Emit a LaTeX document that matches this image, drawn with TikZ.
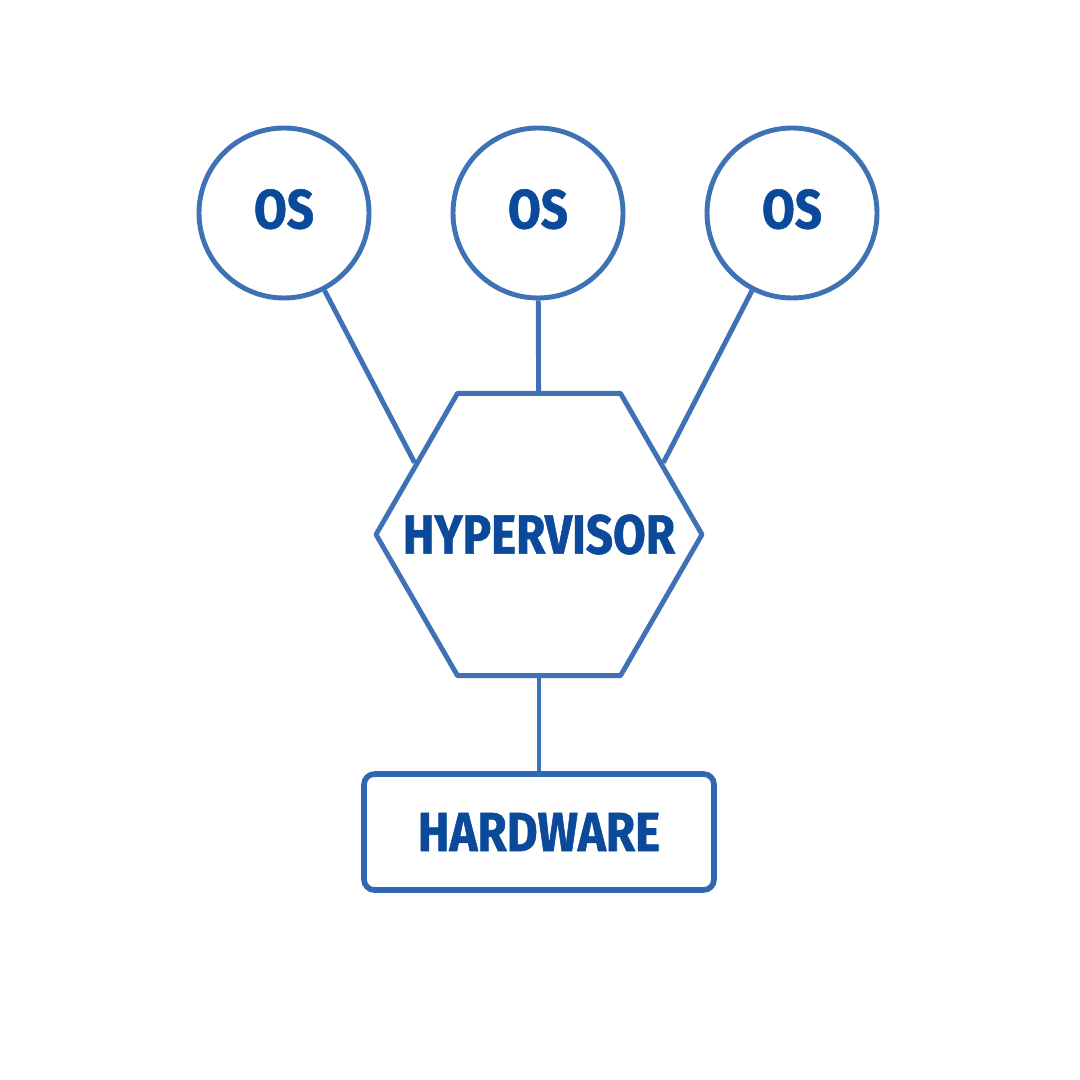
\documentclass[tikz,border=0pt]{standalone}
\usepackage{fontspec}
\setsansfont{Fira Sans}[FakeStretch=0.86, BoldFeatures={FakeBold=1}]
\usetikzlibrary{shapes,positioning}
\definecolor{linkblue}{RGB}{63,114,181}
\definecolor{boxblue}{RGB}{47,103,176}
\definecolor{textblue}{RGB}{11,74,154}
\tikzstyle{osbox} = [circle, minimum size=1.7cm, inner sep=0pt, text depth=2.4pt, draw=linkblue, line width=1.4pt, fill=white, text=textblue, font=\sffamily\bfseries\fontsize{15.7}{18}\selectfont]
\tikzstyle{hypbox} = [regular polygon, regular polygon sides=6, minimum size=3.26cm, inner sep=0pt, draw=linkblue, line width=1.4pt, line join=round]
\tikzstyle{hwbox} = [rectangle, rounded corners=3pt, minimum width=3.5cm, minimum height=1.16cm, draw=boxblue, line width=1.6pt, text=textblue, font=\sffamily\bfseries\fontsize{15.7}{18}\selectfont]
\tikzstyle{hyptext} = [text=textblue, font=\sffamily\bfseries\fontsize{15.7}{18}\selectfont]
\tikzstyle{link} = [line width=1.4pt, color=linkblue]

\begin{document}
\begin{tikzpicture}
\useasboundingbox (0,0) rectangle (10.8,-10.8);

% Guests
\node[osbox] (os1) at (2.84,-2.13) {OS};
\node[osbox] (os2) at (5.38,-2.13) {OS};
\node[osbox] (os3) at (7.92,-2.13) {OS};

% Hypervisor and hardware
\node[hypbox, label={[hyptext]center:HYPERVISOR}] (hyp) at (5.39,-5.345) {};
\node[hwbox] (hw) at (5.39,-8.32) {HARDWARE};

% Links
\draw[link] (os1) -- (hyp.150);
\draw[link] (os2) -- (hyp);
\draw[link] (os3) -- (hyp.30);
\draw[link] (hyp) -- (hw);

\end{tikzpicture}
\end{document}
